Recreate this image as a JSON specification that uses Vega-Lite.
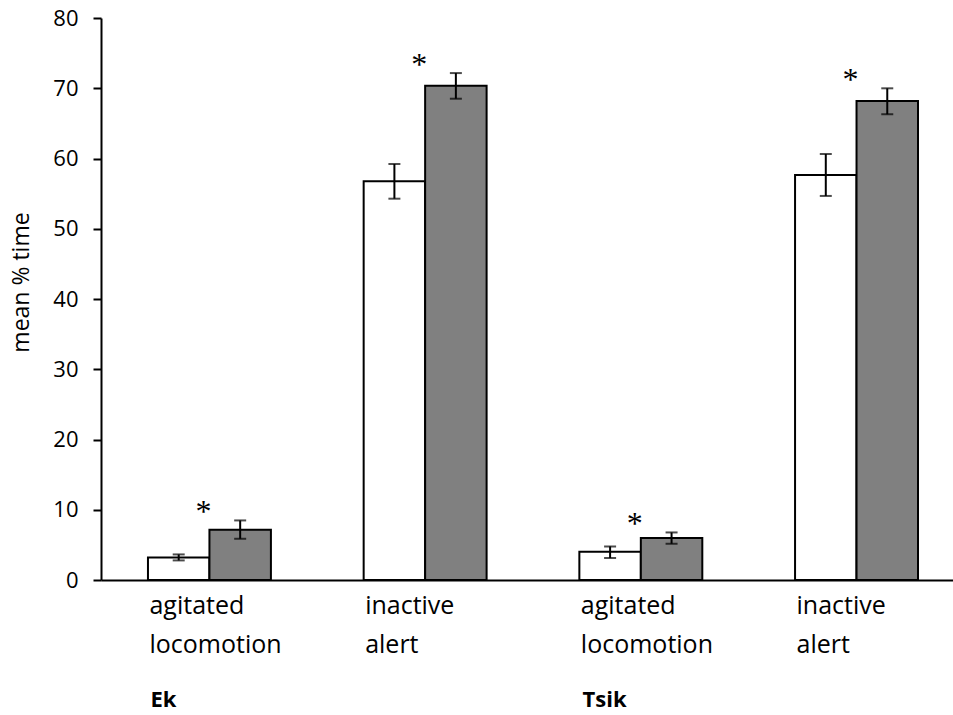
{
  "$schema": "https://vega.github.io/schema/vega-lite/v6.json",
  "autosize": {"type": "none"},
  "padding": {"left": 101, "top": 18, "right": 0, "bottom": 135},
  "width": 852,
  "height": 562,
  "config": {
    "view": {"stroke": null},
    "font": "Open Sans",
    "axis": {
      "grid": false,
      "domainColor": "black",
      "tickColor": "black",
      "labelColor": "black",
      "titleColor": "black",
      "domainWidth": 2,
      "tickWidth": 2
    }
  },
  "layer": [
    {
      "data": {
        "values": [
          {"cat": "Ek agitated locomotion", "cond": "control", "mean": 3.21, "lo": 2.79, "hi": 3.64, "sig": ""},
          {"cat": "Ek agitated locomotion", "cond": "treatment", "mean": 7.16, "lo": 5.87, "hi": 8.48, "sig": "*"},
          {"cat": "Ek inactive alert", "cond": "control", "mean": 56.76, "lo": 54.28, "hi": 59.22, "sig": ""},
          {"cat": "Ek inactive alert", "cond": "treatment", "mean": 70.36, "lo": 68.51, "hi": 72.16, "sig": "*"},
          {"cat": "Tsik agitated locomotion", "cond": "control", "mean": 4.03, "lo": 3.13, "hi": 4.78, "sig": ""},
          {"cat": "Tsik agitated locomotion", "cond": "treatment", "mean": 5.97, "lo": 5.16, "hi": 6.77, "sig": "*"},
          {"cat": "Tsik inactive alert", "cond": "control", "mean": 57.65, "lo": 54.67, "hi": 60.64, "sig": ""},
          {"cat": "Tsik inactive alert", "cond": "treatment", "mean": 68.18, "lo": 66.3, "hi": 69.99, "sig": "*"}
        ]
      },
      "layer": [
        {
          "mark": {"type": "bar", "stroke": "black", "strokeWidth": 2},
          "encoding": {
            "x": {
              "field": "cat", "type": "nominal",
              "sort": ["Ek agitated locomotion", "Ek inactive alert", "Tsik agitated locomotion", "Tsik inactive alert"],
              "scale": {"paddingInner": 0.43, "paddingOuter": 0.19, "align": 0.573},
              "axis": {
                "orient": "bottom",
                "title": null,
                "ticks": false,
                "labelAngle": 0,
                "labelAlign": "left",
                "labelOffset": -60,
                "labelBaseline": "alphabetic",
                "labelPadding": 33,
                "labelFontSize": 25,
                "labelLineHeight": 39,
                "labelExpr": "split(replace(replace(datum.value, 'Tsik ', ''), 'Ek ', ''), ' ')"
              }
            },
            "xOffset": {
              "field": "cond", "type": "nominal",
              "sort": ["control", "treatment"],
              "scale": {"paddingInner": 0, "paddingOuter": 0}
            },
            "y": {
              "field": "mean", "type": "quantitative",
              "scale": {"domain": [0, 80], "nice": false},
              "axis": {
                "title": "mean % time",
                "values": [0, 10, 20, 30, 40, 50, 60, 70, 80],
                "tickSize": 8,
                "labelPadding": 15,
                "labelFontSize": 22,
                "titleFontSize": 23,
                "titleFontWeight": "normal",
                "titlePadding": 19,
                "titleY": 264
              }
            },
            "fill": {
              "field": "cond", "type": "nominal",
              "scale": {"domain": ["control", "treatment"], "range": ["#ffffff", "#808080"]},
              "legend": null
            }
          }
        },
        {
          "mark": {"type": "rule", "strokeWidth": 2, "color": "black"},
          "encoding": {
            "x": {"field": "cat", "type": "nominal", "sort": ["Ek agitated locomotion", "Ek inactive alert", "Tsik agitated locomotion", "Tsik inactive alert"]},
            "xOffset": {"field": "cond", "type": "nominal", "sort": ["control", "treatment"]},
            "y": {"field": "lo", "type": "quantitative"},
            "y2": {"field": "hi"}
          }
        },
        {
          "mark": {"type": "tick", "thickness": 2, "size": 12, "color": "black", "orient": "horizontal"},
          "encoding": {
            "x": {"field": "cat", "type": "nominal", "sort": ["Ek agitated locomotion", "Ek inactive alert", "Tsik agitated locomotion", "Tsik inactive alert"]},
            "xOffset": {"field": "cond", "type": "nominal", "sort": ["control", "treatment"]},
            "y": {"field": "lo", "type": "quantitative"}
          }
        },
        {
          "mark": {"type": "tick", "thickness": 2, "size": 12, "color": "black", "orient": "horizontal"},
          "encoding": {
            "x": {"field": "cat", "type": "nominal", "sort": ["Ek agitated locomotion", "Ek inactive alert", "Tsik agitated locomotion", "Tsik inactive alert"]},
            "xOffset": {"field": "cond", "type": "nominal", "sort": ["control", "treatment"]},
            "y": {"field": "hi", "type": "quantitative"}
          }
        },
        {
          "transform": [{"filter": "datum.sig != ''"}],
          "mark": {"type": "text", "font": "Liberation Serif", "fontSize": 32, "dx": -6, "dy": 2, "baseline": "alphabetic", "color": "black"},
          "encoding": {
            "x": {"field": "cat", "type": "nominal", "sort": ["Ek agitated locomotion", "Ek inactive alert", "Tsik agitated locomotion", "Tsik inactive alert"]},
            "y": {"field": "hi", "type": "quantitative"},
            "text": {"field": "sig"}
          }
        }
      ]
    },
    {
      "data": {"values": [{"region": "Ek"}, {"region": "Tsik"}]},
      "mark": {"type": "point", "opacity": 0},
      "encoding": {
        "x": {
          "field": "region", "type": "nominal",
          "scale": {"type": "point", "padding": 0.486, "align": 0.1167},
          "axis": {
            "orient": "bottom",
            "title": null,
            "domain": false,
            "ticks": false,
            "labelAngle": 0,
            "labelAlign": "left",
            "labelBaseline": "alphabetic",
            "labelPadding": 126,
            "labelFontSize": 22,
            "labelFontWeight": "bold"
          }
        }
      }
    }
  ],
  "resolve": {"scale": {"x": "independent"}}
}
